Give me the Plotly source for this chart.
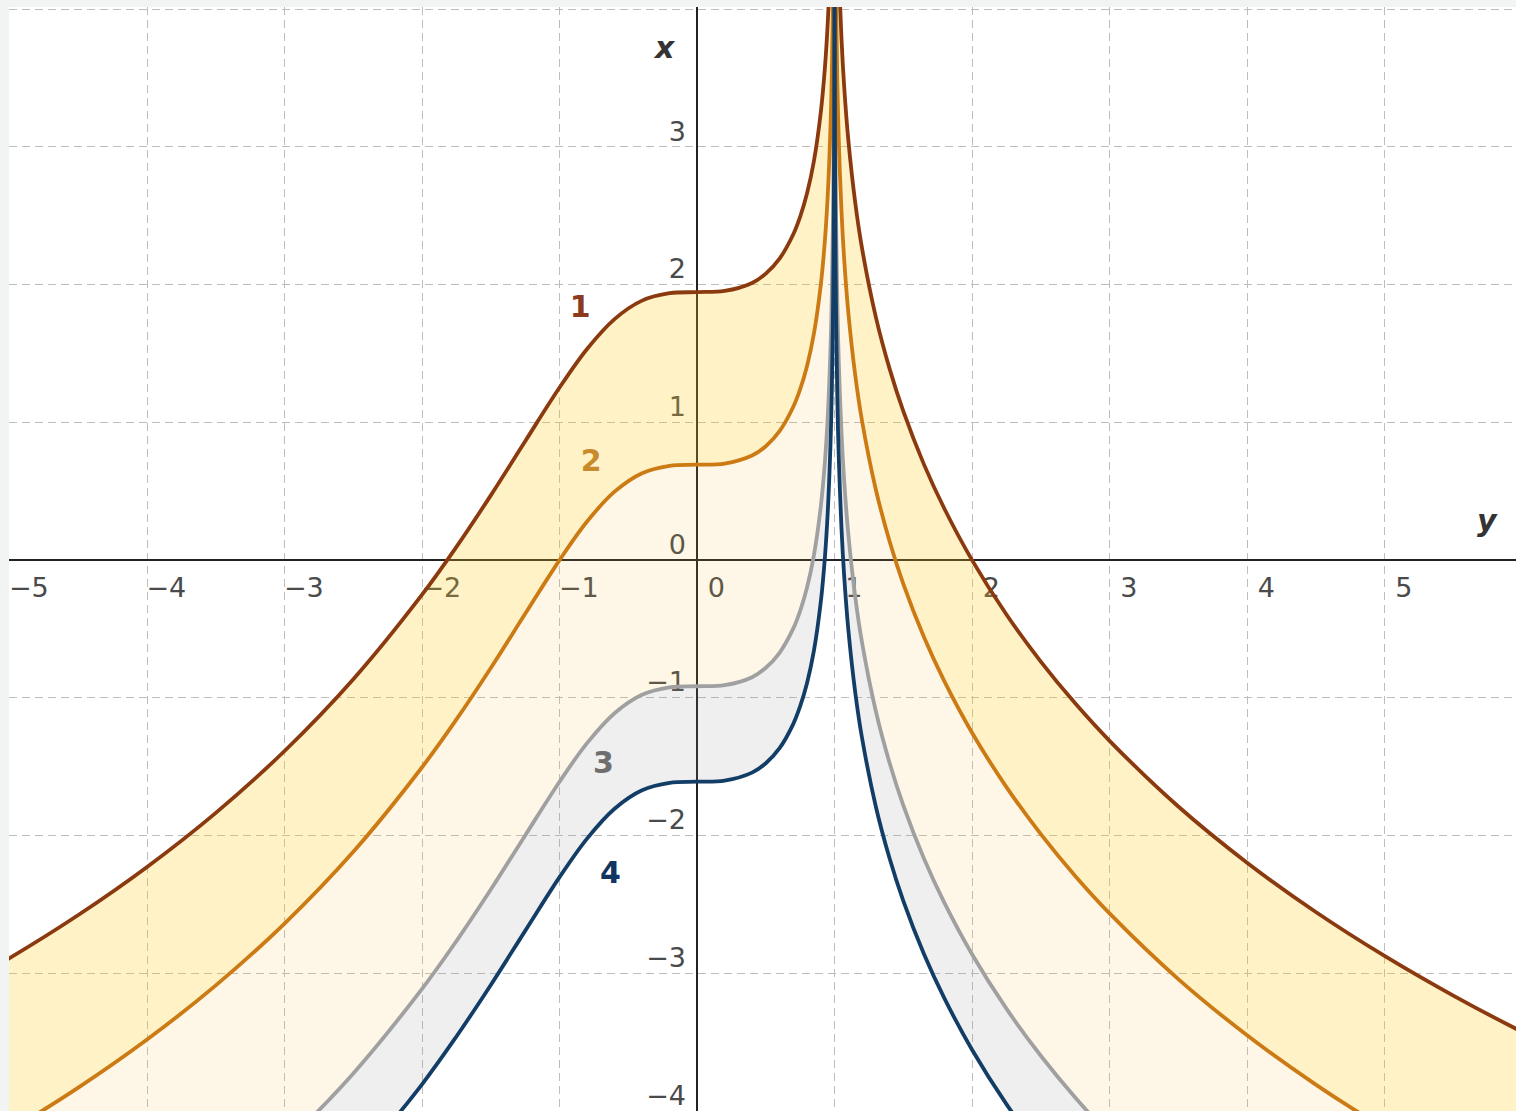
import plotly.graph_objects as go

# ---------------- data ----------------
# horizontal axis = y, vertical axis = x ; four solution curves with an
# asymptote at y = 1 (left branch y < 1, right branch y > 1)
c1L_y = [-5.5, -5.0, -4.5, -4.0, -3.5, -3.0, -2.5, -2.0, -1.75, -1.5, -1.25, -1.0, -0.8, -0.6, -0.4, -0.2, 0.0, 0.2, 0.4, 0.5, 0.6, 0.7, 0.75, 0.8, 0.85, 0.9, 0.93, 0.95, 0.97, 0.98, 0.99]
c1L_x = [-3.174, -2.890, -2.577, -2.228, -1.835, -1.386, -0.865, -0.251, 0.096, 0.470, 0.863, 1.253, 1.533, 1.750, 1.884, 1.938, 1.946, 1.954, 2.012, 2.080, 2.189, 2.366, 2.494, 2.663, 2.898, 3.252, 3.577, 3.894, 4.384, 4.780, 5.463]

c2L_y = [-5.5, -5.0, -4.5, -4.0, -3.5, -3.0, -2.5, -2.0, -1.75, -1.5, -1.25, -1.0, -0.8, -0.6, -0.4, -0.2, 0.0, 0.2, 0.4, 0.5, 0.6, 0.7, 0.75, 0.8, 0.85, 0.9, 0.93, 0.95, 0.97, 0.98, 0.99, 0.995]
c2L_x = [-4.427, -4.143, -3.830, -3.481, -3.088, -2.639, -2.118, -1.504, -1.157, -0.783, -0.390, 0.000, 0.280, 0.497, 0.631, 0.685, 0.693, 0.701, 0.759, 0.827, 0.936, 1.113, 1.241, 1.410, 1.645, 1.999, 2.324, 2.641, 3.131, 3.527, 4.210, 4.898]

c3L_y = [-3.0, -2.5, -2.0, -1.75, -1.5, -1.25, -1.0, -0.8, -0.6, -0.4, -0.2, 0.0, 0.2, 0.4, 0.5, 0.6, 0.7, 0.75, 0.8, 0.85, 0.9, 0.93, 0.95, 0.97, 0.98, 0.99, 0.995, 0.998, 0.999]
c3L_x = [-4.248, -3.727, -3.113, -2.766, -2.392, -1.999, -1.609, -1.329, -1.112, -0.978, -0.924, -0.916, -0.908, -0.850, -0.782, -0.673, -0.496, -0.368, -0.199, 0.036, 0.390, 0.715, 1.032, 1.522, 1.918, 2.601, 3.289, 4.202, 4.894]

c4L_y = [-2.5, -2.0, -1.75, -1.5, -1.25, -1.0, -0.8, -0.6, -0.4, -0.2, 0.0, 0.2, 0.4, 0.5, 0.6, 0.7, 0.75, 0.8, 0.85, 0.9, 0.93, 0.95, 0.97, 0.98, 0.99, 0.995, 0.998, 0.999, 0.9995]
c4L_x = [-4.420, -3.806, -3.459, -3.085, -2.692, -2.302, -2.022, -1.805, -1.671, -1.617, -1.609, -1.601, -1.543, -1.475, -1.366, -1.189, -1.061, -0.892, -0.657, -0.303, 0.022, 0.339, 0.829, 1.225, 1.908, 2.596, 3.509, 4.201, 4.894]

c1R_y = [1.01, 1.02, 1.03, 1.05, 1.07, 1.1, 1.15, 1.2, 1.3, 1.4, 1.5, 1.65, 1.8, 2.0, 2.25, 2.5, 2.75, 3.0, 3.5, 4.0, 4.5, 5.0, 5.5, 6.0, 6.5, 7.0]
c1R_x = [5.443, 4.740, 4.324, 3.794, 3.438, 3.052, 2.598, 2.263, 1.766, 1.390, 1.081, 0.695, 0.371, 0.000, -0.395, -0.737, -1.040, -1.312, -1.789, -2.197, -2.555, -2.874, -3.162, -3.425, -3.666, -3.889]

c2R_y = [1.005, 1.01, 1.02, 1.03, 1.05, 1.07, 1.1, 1.15, 1.2, 1.3, 1.4, 1.5, 1.65, 1.8, 2.0, 2.25, 2.5, 2.75, 3.0, 3.5, 4.0, 4.5, 5.0, 5.5, 6.0, 6.5, 7.0]
c2R_x = [4.888, 4.190, 3.487, 3.071, 2.541, 2.185, 1.799, 1.345, 1.010, 0.513, 0.137, -0.172, -0.558, -0.882, -1.253, -1.648, -1.990, -2.293, -2.565, -3.042, -3.450, -3.808, -4.127, -4.415, -4.678, -4.919, -5.142]

c3R_y = [1.001, 1.002, 1.005, 1.01, 1.02, 1.03, 1.05, 1.07, 1.1, 1.15, 1.2, 1.3, 1.4, 1.5, 1.65, 1.8, 2.0, 2.25, 2.5, 2.75, 3.0, 3.5]
c3R_x = [4.892, 4.198, 3.279, 2.581, 1.878, 1.462, 0.932, 0.576, 0.190, -0.264, -0.599, -1.096, -1.472, -1.781, -2.167, -2.491, -2.862, -3.257, -3.599, -3.902, -4.174, -4.651]

c4R_y = [1.0002, 1.0005, 1.001, 1.002, 1.005, 1.01, 1.02, 1.03, 1.05, 1.07, 1.1, 1.15, 1.2, 1.3, 1.4, 1.5, 1.65, 1.8, 2.0, 2.25, 2.5, 2.75]
c4R_x = [5.809, 4.893, 4.199, 3.505, 2.586, 1.888, 1.185, 0.769, 0.239, -0.117, -0.503, -0.957, -1.292, -1.789, -2.165, -2.474, -2.860, -3.184, -3.555, -3.950, -4.292, -4.595]

# tick labels
h_ticks = [-5, -4, -3, -2, -1, 0, 1, 2, 3, 4, 5]
h_labels = ["\u22125", "\u22124", "\u22123", "\u22122", "\u22121", "0", "1", "2", "3", "4", "5"]
v_ticks = [-4, -3, -2, -1, 0, 1, 2, 3]
v_labels = ["\u22124", "\u22123", "\u22122", "\u22121", "0", "1", "2", "3"]

# curve labels
curve_names = ["1", "2", "3", "4"]
curve_label_y = [-0.85, -0.77, -0.68, -0.63]
curve_label_x = [1.82, 0.70, -1.49, -2.29]

# ---------------- styles ----------------
line_colors = ["#8B3A0F", "#CC7A14", "#A0A0A0", "#123D66"]
label_colors = ["#8B3A1E", "#C88A2A", "#6E6E6E", "#0F3560"]
fill_12 = "rgba(255,204,30,0.25)"
fill_23 = "rgba(250,185,50,0.12)"
fill_34 = "rgba(150,150,155,0.15)"
LW = 3.8
font_fam = "DejaVu Sans"

fig = go.Figure()

# tick labels (drawn first, so that the curves cover them as in the reference)
fig.add_trace(go.Scatter(
    x=[t + 0.14 for t in h_ticks], y=[-0.22] * len(h_ticks), text=h_labels,
    mode="text", textposition="middle center",
    textfont=dict(family=font_fam, size=27, color="#4a4a4a"),
    hoverinfo="skip", showlegend=False))
fig.add_trace(go.Scatter(
    x=[-0.08] * len(v_ticks), y=[t + 0.095 for t in v_ticks], text=v_labels,
    mode="text", textposition="middle left",
    textfont=dict(family=font_fam, size=27, color="#4a4a4a"),
    hoverinfo="skip", showlegend=False))


def add_curve(xs, ys, color, fill=None, fillcolor=None, width=LW):
    fig.add_trace(go.Scatter(
        x=xs, y=ys, mode="lines",
        line=dict(color=color, width=width, shape="spline", smoothing=1.0),
        fill=fill if fill else "none", fillcolor=fillcolor,
        hoverinfo="skip", showlegend=False))


# fills: left branch 4 -> 3 -> 2 -> 1, then right branch
T = "rgba(0,0,0,0)"
add_curve(c4L_y, c4L_x, T, width=0)
add_curve(c3L_y, c3L_x, T, "tonexty", fill_34, width=0)
add_curve(c2L_y, c2L_x, T, "tonexty", fill_23, width=0)
add_curve(c1L_y, c1L_x, T, "tonexty", fill_12, width=0)
add_curve(c4R_y, c4R_x, T, width=0)
add_curve(c3R_y, c3R_x, T, "tonexty", fill_34, width=0)
add_curve(c2R_y, c2R_x, T, "tonexty", fill_23, width=0)
add_curve(c1R_y, c1R_x, T, "tonexty", fill_12, width=0)

# the curves themselves, on top of all fills
for xs, ys, c in [(c3L_y, c3L_x, line_colors[2]), (c3R_y, c3R_x, line_colors[2]),
                  (c2L_y, c2L_x, line_colors[1]), (c2R_y, c2R_x, line_colors[1]),
                  (c1L_y, c1L_x, line_colors[0]), (c1R_y, c1R_x, line_colors[0]),
                  (c4L_y, c4L_x, line_colors[3]), (c4R_y, c4R_x, line_colors[3])]:
    add_curve(xs, ys, c)

# curve labels
fig.add_trace(go.Scatter(
    x=curve_label_y, y=curve_label_x, text=[f"<b>{n}</b>" for n in curve_names],
    mode="text", textposition="middle center",
    textfont=dict(family=font_fam, size=30, color=label_colors),
    hoverinfo="skip", showlegend=False))

# axis names
fig.add_annotation(x=-0.24, y=3.72, text="<b><i>x</i></b>", showarrow=False,
                   font=dict(family=font_fam, size=30, color="#333333"))
fig.add_annotation(x=5.75, y=0.29, text="<b><i>y</i></b>", showarrow=False,
                   font=dict(family=font_fam, size=30, color="#333333"))

grid = dict(showgrid=True, gridcolor="#bdbdbd", gridwidth=1, griddash="8px,5px",
            zeroline=True, zerolinecolor="#222222", zerolinewidth=2,
            showticklabels=False, ticks="", showline=False, dtick=1, tick0=0)

fig.update_layout(
    width=1516, height=1111,
    margin=dict(l=9, r=0, t=7, b=0),
    paper_bgcolor="#f2f4f4", plot_bgcolor="white",
    xaxis=dict(range=[-5.004, 5.956], **grid),
    yaxis=dict(range=[-4.0, 4.016], **grid),
    showlegend=False,
)

# the page itself gets no margin so the 1516x1111 figure fills the window
fig.write_html("out.html",
               config={"displayModeBar": False},
               post_script="document.body.style.margin='0';"
                           "document.body.style.overflow='hidden';")
